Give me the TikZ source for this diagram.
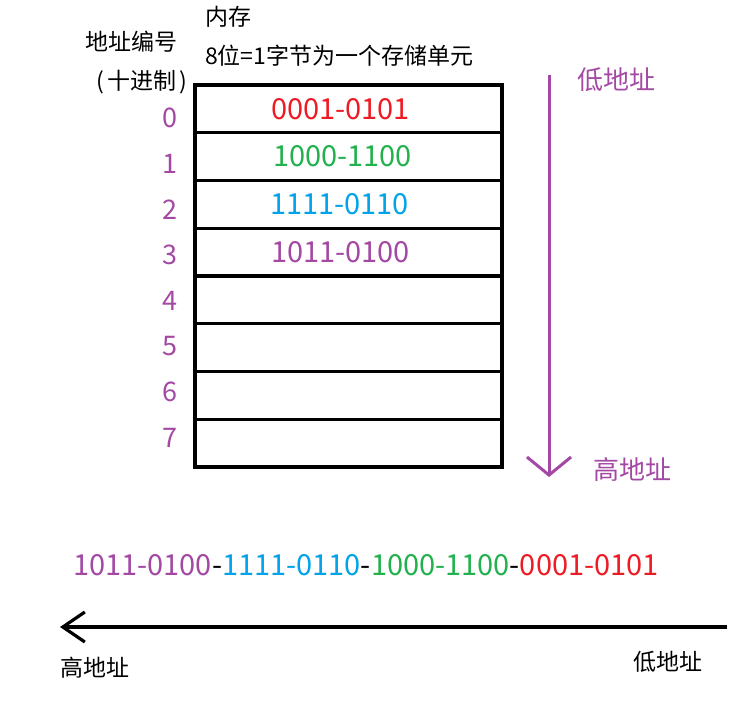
\documentclass[tikz,border=0pt]{standalone}
\usepackage{fontspec}
\setmainfont{Noto Sans CJK SC}
\usetikzlibrary{arrows.meta}
\definecolor{mspurple}{RGB}{163,73,164}
\definecolor{msred}{RGB}{237,28,36}
\definecolor{msgreen}{RGB}{34,177,76}
\definecolor{msblue}{RGB}{0,162,232}
\begin{document}
\begin{tikzpicture}[
        x=1pt, y=-1pt,
        mem-cell/.style = {draw, rectangle, line width=3.2pt, minimum width=307pt, minimum height=47.75pt, inner sep=0pt},
        cell-val/.style = {font=\fontsize{29}{31}\selectfont, inner sep=0pt},
        addr-num/.style = {text=mspurple, font=\fontsize{27}{30}\selectfont, inner sep=0pt},
        note/.style = {font=\fontsize{23}{26}\selectfont, inner sep=0pt},
        dir-txt/.style = {font=\fontsize{26}{28}\selectfont, inner sep=0pt}
      ]
        \useasboundingbox (0,0) rectangle (739,711);

        \node[note, anchor=west] (mem) at (205,17) {内存};
        \node[note, anchor=west] (unit) at (205,56) {8位=1字节为一个存储单元};
        \node[note] (addr) at (131,42) {地址编号};
        \node[note] (dec) at (142,82) {(\hspace{3pt}十进制\hspace{3pt})};

        \foreach \i in {0,...,7} {
          \node[mem-cell] (c\i) at (348.5, 108.875+47.75*\i) {};
          \node[addr-num] (a\i) at (170, 118+45.7*\i) {\i};
        }

        \node[cell-val, text=msred] (v0) at ([xshift=-8pt]c0.center) {0001-0101};
        \node[cell-val, text=msgreen] (v1) at ([xshift=-6pt]c1.center) {1000-1100};
        \node[cell-val, text=msblue] (v2) at ([xshift=-9pt]c2.center) {1111-0110};
        \node[cell-val, text=mspurple] (v3) at ([xshift=-8pt]c3.center) {1011-0100};

        % low to high, top to bottom
        \coordinate (vtop) at (549,75);
        \coordinate (vbot) at (549,477);
        \draw[mspurple, line width=3pt, -{Straight Barb[length=18pt,width=44pt]}] (vtop) -- (vbot);
        \node[dir-txt, text=mspurple, anchor=west] (vlow) at (577,80) {低地址};
        \node[dir-txt, text=mspurple, anchor=west] (vhigh) at (593,470) {高地址};

        \node[cell-val, font=\fontsize{29}{32}\selectfont] (seq) at (366,565)
          {\textcolor{mspurple}{1011-0100}-\textcolor{msblue}{1111-0110}-\textcolor{msgreen}{1000-1100}-\textcolor{msred}{0001-0101}};

        % high to low, right to left
        \coordinate (hstart) at (727,627);
        \coordinate (hend) at (60,627);
        \draw[line width=3.2pt, -{Straight Barb[length=22pt,width=30pt]}] (hstart) -- (hend);
        \node[note] (hhigh) at (95,668) {高地址};
        \node[note] (hlow) at (668,662) {低地址};
      \end{tikzpicture}
\end{document}
